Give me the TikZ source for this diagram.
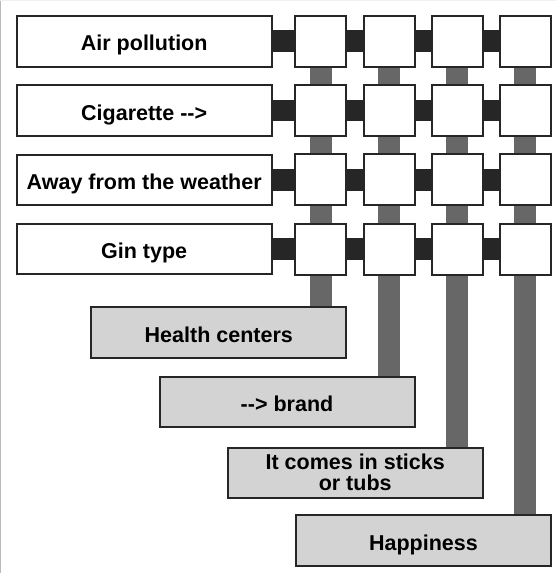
\documentclass[tikz,border=0pt]{standalone}
\usepackage{fontspec}
\setmainfont{Liberation Sans}
\usetikzlibrary{backgrounds}

\definecolor{edgeDark}{HTML}{262626}
\definecolor{linkDark}{HTML}{262626}
\definecolor{linkGray}{HTML}{676767}
\definecolor{outFill}{HTML}{D3D3D3}

\tikzset{
  rowbox/.style={draw=edgeDark, line width=2pt, fill=white, inner sep=0pt,
    minimum width=255pt, minimum height=50.5pt,
    font=\fontsize{21.5}{21}\selectfont\bfseries},
  oneline/.style={text height=19.2pt, text depth=0pt},
  twoline/.style={yshift=-1.5pt},
  cellbox/.style={draw=edgeDark, line width=2pt, fill=white, inner sep=0pt,
    minimum size=51pt},
  outbox/.style={rowbox, fill=outFill, align=center},
  hlink/.style={linkDark, line width=21.7pt},
  vlink/.style={linkGray, line width=22pt},
}

\begin{document}
\begin{tikzpicture}[x=1pt, y=-1pt]
  \useasboundingbox (0,0) rectangle (556,573);
  \draw[gray!55, line width=1pt] (0.5,0) -- (0.5,573);
  \draw[gray!12, line width=1pt] (0,0.5) -- (556,0.5);

  % Row labels
  \foreach \txt [count=\i] in {Air pollution, Cigarette -{}->, Away from the weather, Gin type}
    \node[rowbox, oneline] (r\i) at (144.2, {41.3+69.3*(\i-1)}) {\txt};

  % Grid cells
  \foreach \i in {1,...,4}
    \foreach \j in {1,...,4}
      \node[cellbox] (c\i\j) at ({320.8+68.2*(\j-1)}, {41.3+69.3*(\i-1)}) {};

  % Outcome boxes
  \foreach \txt/\tstyle [count=\j] in {Health centers/oneline, -{}-> brand/oneline,
      {It comes in sticks\\or tubs}/twoline, Happiness/oneline}
    \node[outbox, \tstyle] (o\j) at ({218.8+68.2*(\j-1)}, {332.5+69.4*(\j-1)}) {\txt};

  % Links behind the boxes
  \begin{scope}[on background layer]
    \foreach \i in {1,...,4} {
      \draw[hlink] (r\i.east) -- (c\i1.west);
      \foreach \j/\k in {1/2, 2/3, 3/4}
        \draw[hlink] (c\i\j.east) -- (c\i\k.west);
    }
    \foreach \j in {1,...,4} {
      \foreach \i/\k in {1/2, 2/3, 3/4}
        \draw[vlink] (c\i\j.south) -- (c\k\j.north);
      \draw[vlink] (c4\j.south) -- (o\j.north -| c4\j.south);
    }
  \end{scope}
\end{tikzpicture}
\end{document}
